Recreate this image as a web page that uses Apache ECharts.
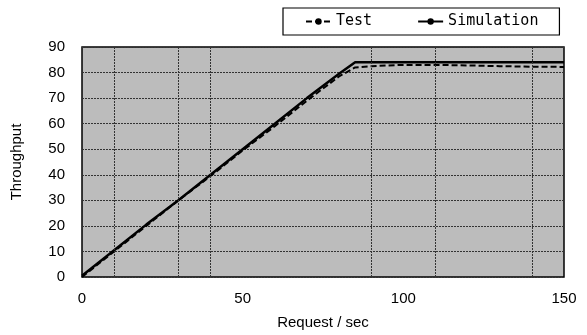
<!DOCTYPE html>
<html><head><meta charset="utf-8">
<script src="https://cdn.jsdelivr.net/npm/echarts@6/dist/echarts.min.js"></script>
<style>html,body{margin:0;padding:0;background:#fff}#c{width:587px;height:335px}</style>
</head><body><div id="c"></div>
<script>
const requests = [0, 10, 20, 30, 40, 50, 60, 70, 80, 85, 90, 100, 110, 120, 130, 140, 150];
const testVals = [0, 10, 20, 30, 39.5, 49.5, 59, 69, 78.5, 82, 82.5, 83, 83, 82.8, 82.5, 82.3, 82.2];
const simVals  = [0.5, 10.5, 20.5, 30, 40, 50, 60, 70, 79.5, 84, 84, 84, 84, 84, 84, 84, 84];
const xTicks = [0, 50, 100, 150];
const yTicks = [0, 10, 20, 30, 40, 50, 60, 70, 80, 90];
const vGrid = [10, 30, 40, 90, 110, 140];

const font = 'Liberation Sans, Arial, sans-serif';
const chart = echarts.init(document.getElementById('c'), null, {renderer: 'canvas'});
chart.setOption({
  animation: false,
  backgroundColor: '#fff',
  grid: {left: 82, right: 23, top: 47, bottom: 58, show: true, backgroundColor: '#bcbcbc', borderColor: '#000', borderWidth: 1.5},
  legend: {
    top: 8, left: 283, padding: [6, 21, 6, 22], itemGap: 45,
    borderColor: '#000', borderWidth: 1.2, backgroundColor: '#fff',
    itemWidth: 25, itemHeight: 8,
    textStyle: {fontFamily: 'DejaVu Sans Mono, monospace', fontSize: 15, color: '#000'},
    data: ['Test', 'Simulation']
  },
  xAxis: {
    type: 'value', min: 0, max: 150, interval: 50,
    name: 'Request / sec', nameLocation: 'middle', nameGap: 38,
    nameTextStyle: {fontFamily: font, fontSize: 15, color: '#000'},
    axisLine: {show: false}, axisTick: {show: false}, splitLine: {show: false},
    axisLabel: {fontFamily: font, fontSize: 15, color: '#000', margin: 14,
      customValues: xTicks}
  },
  yAxis: {
    type: 'value', min: 0, max: 90, interval: 10,
    name: 'Throughput', nameLocation: 'middle', nameGap: 58,
    nameTextStyle: {fontFamily: font, fontSize: 15, color: '#000'},
    axisLine: {show: false}, axisTick: {show: false},
    splitLine: {show: true, lineStyle: {color: '#333', width: 1, type: [2, 1]}},
    axisLabel: {fontFamily: font, fontSize: 15, color: '#000', margin: 17}
  },
  series: [
    {
      name: 'Test', type: 'line', data: requests.map((r, i) => [r, testVals[i]]),
      symbol: 'circle', symbolSize: 4, showSymbol: false,
      lineStyle: {color: '#000', width: 2, type: [6, 3]}, itemStyle: {color: '#000'},
      markLine: {silent: true, symbol: 'none', label: {show: false},
        lineStyle: {color: '#333', width: 1, type: [2, 1]},
        data: vGrid.map(v => ({xAxis: v}))}
    },
    {
      name: 'Simulation', type: 'line', data: requests.map((r, i) => [r, simVals[i]]),
      symbol: 'circle', symbolSize: 4, showSymbol: false,
      lineStyle: {color: '#000', width: 2.5}, itemStyle: {color: '#000'}
    }
  ]
});
</script></body></html>
